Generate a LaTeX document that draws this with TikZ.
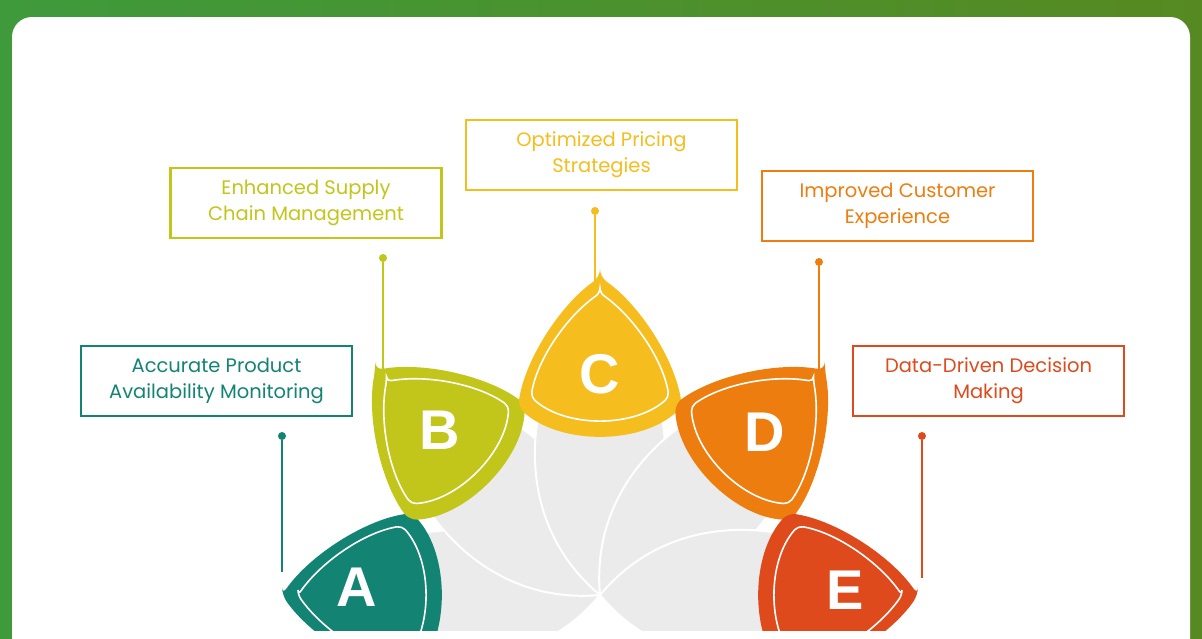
\documentclass[tikz,border=0pt]{standalone}
\usepackage{fontspec}
\setmainfont{Poppins}
\newfontfamily\letterfont{Liberation Sans}
\definecolor{cA}{HTML}{138474}
\definecolor{cB}{HTML}{C2C51A}
\definecolor{cC}{HTML}{F5BE1E}
\definecolor{cD}{HTML}{EE7D10}
\definecolor{cE}{HTML}{DF4A1D}
\definecolor{grn}{HTML}{3F9A3C}
\definecolor{petal}{HTML}{EBEBEB}
\tikzset{
 lbl/.style={draw=#1,line width=2.2pt,fill=white,text=#1,minimum width=271pt,minimum height=70pt,align=center,font=\fontsize{19.5}{26}\selectfont,inner sep=0pt},
 dotc/.style={circle,fill=#1,inner sep=0pt,minimum size=8pt},
 conn/.style={draw=#1,line width=2pt},
 let/.style={text=white,font=\letterfont\bfseries\fontsize{56}{56}\selectfont}
}
\newcommand{\greypetal}[1]{%
 \fill[petal,draw=white,line width=2pt,rotate=#1] (0,0) .. controls (50,60) and (120,72) .. (178,62) -- (178,-62) .. controls (120,-72) and (50,-60) .. (0,0);}
\newcommand{\colpetal}[2]{%
 \fill[#2,rounded corners=8pt,rotate=#1] (318,0) .. controls (290,40) and (235,75) .. (188,82) .. controls (150,40) and (150,-40) .. (188,-82) .. controls (235,-75) and (290,-40) .. (318,0) -- cycle;
 \draw[white,line width=1.6pt,rounded corners=5pt,rotate=#1] (302,0) .. controls (278,34) and (235,63) .. (198,69) .. controls (167,34) and (167,-34) .. (198,-69) .. controls (235,-63) and (278,-34) .. (302,0) -- cycle;}
\begin{document}
\begin{tikzpicture}[x=1pt,y=-1pt]
\useasboundingbox (0,0) rectangle (1202,638);
\shade[left color=grn,right color=grn!70!black!80!yellow] (0,0) rectangle (1202,638);
\fill[white,rounded corners=20pt] (12,17) rectangle (1190,660);
\begin{scope}
\clip (12,17) rectangle (1190,630);
\begin{scope}[shift={(600,595)}]
\foreach \a in {180,135,90,45,0} {\greypetal{\a}}
\colpetal{180}{cA}
\colpetal{135}{cB}
\colpetal{90}{cC}
\colpetal{45}{cD}
\colpetal{0}{cE}
\end{scope}
\end{scope}
\node[let] (A) at (357,587) {A};
\node[let] (B) at (440,430) {B};
\node[let] (C) at (600,374) {C};
\node[let] (D) at (765,432) {D};
\node[let] (E) at (845,590) {E};
\node[lbl=cA] (tA) at (216.5,381) {Accurate Product\\Availability Monitoring};
\node[lbl=cB] (tB) at (306,203) {Enhanced Supply\\Chain Management};
\node[lbl=cC] (tC) at (601.5,155) {Optimized Pricing\\Strategies};
\node[lbl=cD] (tD) at (897.5,206) {Improved Customer\\Experience};
\node[lbl=cE] (tE) at (988.5,381) {Data-Driven Decision\\Making};
\node[dotc=cA] (dA) at (282,436) {};
\node[dotc=cB] (dB) at (383,258) {};
\node[dotc=cC] (dC) at (595,211) {};
\node[dotc=cD] (dD) at (819,262) {};
\node[dotc=cE] (dE) at (922,436) {};
\coordinate (eA) at (282,572);
\coordinate (eB) at (383,370);
\coordinate (eC) at (595,285);
\coordinate (eD) at (819,372);
\coordinate (eE) at (922,578);
\draw[conn=cA] (dA) -- (eA);
\draw[conn=cB] (dB) -- (eB);
\draw[conn=cC] (dC) -- (eC);
\draw[conn=cD] (dD) -- (eD);
\draw[conn=cE] (dE) -- (eE);
\end{tikzpicture}
\end{document}
